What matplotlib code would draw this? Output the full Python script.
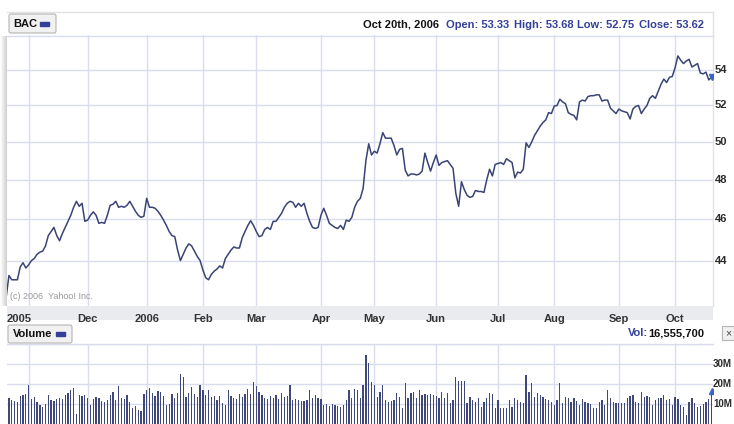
import numpy as np
import matplotlib
matplotlib.use("Agg")
import matplotlib.pyplot as plt
from matplotlib.patches import Rectangle, FancyBboxPatch

# BAC daily close, Oct 20 2005 .. Oct 20 2006 (trading days)
close = [
    42.3, 43.3, 43.1, 43.1, 43.1, 43.7, 43.9, 43.65, 43.8, 44.0,
    44.1, 44.3, 44.4, 44.45, 44.7, 45.2, 45.4, 45.6, 45.2, 44.95,
    45.3, 45.6, 45.9, 46.2, 46.6, 46.9, 46.65, 46.8, 45.9, 45.96,
    46.2, 46.37, 46.2, 45.8, 45.85, 45.8, 46.2, 46.7, 46.75, 46.9,
    46.6, 46.65, 46.6, 46.7, 46.9, 46.65, 46.4, 46.2, 46.1, 46.15,
    47.05, 46.6, 46.6, 46.55, 46.4, 46.2, 45.96, 45.7, 45.4, 45.2,
    45.15, 44.5, 44.0, 44.3, 44.6, 44.8, 44.7, 44.45, 44.2, 44.0,
    43.56, 43.2, 43.1, 43.35, 43.5, 43.6, 43.75, 43.65, 44.1, 44.3,
    44.5, 44.65, 44.6, 44.6, 45.1, 45.4, 45.7, 45.93, 45.7, 45.4,
    45.15, 45.2, 45.5, 45.6, 45.5, 45.9, 45.9, 46.1, 46.3, 46.6,
    46.8, 46.9, 46.85, 46.6, 46.8, 46.65, 46.8, 46.3, 45.9, 45.6,
    45.55, 45.6, 46.2, 46.55, 46.2, 45.8, 45.7, 45.6, 45.55, 45.7,
    45.5, 45.96, 45.9, 46.1, 46.6, 46.9, 47.05, 47.55, 49.0, 49.9,
    49.3, 49.5, 49.4, 49.9, 50.5, 50.2, 50.2, 50.2, 49.8, 49.3,
    49.6, 49.65, 48.5, 48.2, 48.3, 48.3, 48.25, 48.3, 48.45, 49.4,
    48.9, 48.45, 48.9, 49.3, 48.75, 48.9, 48.95, 49.0, 48.8, 48.6,
    47.3, 46.65, 47.9, 47.5, 47.2, 47.1, 47.15, 47.45, 47.4, 47.4,
    47.35, 48.0, 48.55, 48.2, 48.8, 48.85, 48.9, 48.8, 49.1, 49.0,
    48.9, 48.1, 48.4, 48.35, 48.55, 49.95, 49.7, 50.0, 50.35, 50.6,
    50.85, 51.05, 51.2, 51.6, 51.55, 51.96, 52.0, 52.35, 52.2, 52.1,
    51.6, 51.5, 51.45, 51.2, 52.2, 52.3, 52.25, 52.5, 52.55, 52.55,
    52.6, 52.6, 52.25, 52.3, 52.3, 51.85, 51.7, 51.55, 51.8, 51.7,
    51.65, 51.6, 51.25, 51.8, 51.95, 52.0, 51.55, 51.8, 52.0, 52.4,
    52.55, 52.4, 52.8, 53.2, 53.5, 53.3, 53.6, 53.65, 54.15, 54.85,
    54.6, 54.4, 54.55, 54.65, 54.2, 54.3, 54.4, 53.85, 53.8, 53.9,
    53.45, 53.62,
]

# daily volume, millions of shares
volume = [
    13, 13, 12, 11.5, 11, 14, 14.5, 15, 19.5, 12.5,
    13.5, 11, 9.5, 8.5, 10, 14.5, 12, 11.5, 12.5, 13,
    12.5, 14.5, 15.5, 17, 18, 5, 14.5, 14, 14.5, 13,
    9.5, 12.5, 13.5, 13, 11.5, 11, 12, 14.5, 16, 12,
    19, 13, 12.5, 14.5, 11, 8, 9, 7, 6.5, 15,
    17, 18, 15.5, 14, 16.5, 16, 14, 9.5, 10, 15,
    13, 15.5, 25, 23.5, 13.5, 15.5, 18.5, 15, 13.5, 19.5,
    17, 14.5, 17, 13.5, 14, 12, 14, 10.5, 9.5, 17,
    14, 13, 12.5, 15, 13.5, 15, 17.5, 15, 21, 19,
    16, 14.5, 13, 12.5, 14, 13, 14.5, 12.5, 15.5, 13.5,
    14, 19.5, 12, 12.5, 12, 11.5, 11.5, 12, 17, 13,
    14.5, 13, 12.5, 9.5, 10, 9, 10, 9.5, 9, 8.5,
    9.5, 12, 17, 13, 17.5, 17, 13, 19.5, 34.5, 30.3,
    21, 19.5, 13.7, 16, 19.5, 12, 11, 11.5, 12, 15.3,
    13.7, 7.8, 20.7, 13, 15.3, 16, 13, 17, 14.5, 15,
    14.5, 15, 14.5, 14, 13, 16, 13, 15.7, 10.3, 12,
    23.3, 21.7, 21.7, 21.7, 10.3, 13.3, 12, 11, 12.8, 8.7,
    11, 12.8, 15.7, 15, 7.8, 12, 7.8, 7.8, 7.8, 12,
    8.7, 12.8, 12, 11, 10.3, 24.5, 16, 20.3, 13.7, 15.3,
    14.5, 13.3, 12.5, 12, 11, 9.5, 12, 20.3, 10.3, 13.3,
    12.8, 11, 12.8, 11.5, 9.5, 12.3, 11, 10.7, 10, 7.8,
    7.8, 11, 12, 9.5, 17, 12.8, 11, 10.7, 10.7, 10.5,
    10.7, 13, 14, 14.5, 11, 10.3, 16, 13.3, 14, 13.3,
    9.5, 12, 12.8, 13, 14.5, 12, 12.3, 9.5, 13.7, 12.3,
    9.5, 8.7, 4.5, 11, 12.8, 10.3, 8.7, 9, 10, 11,
    12.3, 16.56,
]

# first trading day of each month (index into the series)
month_idx = [8, 29, 50, 70, 89, 112, 131, 153, 175, 195, 218, 238]
month_lbl = ["", "Dec", "2006", "Feb", "Mar", "Apr", "May", "Jun", "Jul", "Aug", "Sep", "Oct"]
price_ticks = [44, 46, 48, 50, 52, 54]
vol_ticks = [10, 20, 30, 40]
vol_lbl = ["10M", "20M", "30M", ""]

W, H = 734, 424
grid_c = "#d9dded"
line_c = "#3a4375"
blue_c = "#33409a"
txt_c = "#2b2b2b"
fam = ["Liberation Sans", "DejaVu Sans"]

days = np.arange(len(close))

fig = plt.figure(figsize=(W / 100, H / 100), dpi=100)

# background layer in pixel coordinates
bg = fig.add_axes([0, 0, 1, 1])
bg.set_xlim(0, W)
bg.set_ylim(H, 0)
bg.axis("off")

# left shadow
grad = np.linspace(1, 0.82, 8).reshape(1, -1)
bg.imshow(np.repeat(grad, 2, axis=0), cmap="gray", vmin=0, vmax=1,
          extent=(0, 7, 306, 36), aspect="auto", zorder=0)

# header strip lines
bg.plot([7, 713], [12, 12], color="#e2e2e2", lw=1)
bg.plot([713, 713], [12, 306], color="#e2e2e2", lw=1)
bg.plot([7, 713], [35.5, 35.5], color=grid_c, lw=1)

# BAC button
bg.add_patch(FancyBboxPatch((9, 14), 47, 19, boxstyle="round,pad=0,rounding_size=2",
                            fc="#f1f1f1", ec="#b5b5b5", lw=0.8, zorder=2))
bg.text(13, 24, "BAC", fontsize=8, fontweight="bold", color="#111111",
        family=fam, va="center", zorder=3)
bg.add_patch(Rectangle((40, 22), 9, 3.5, color=blue_c, zorder=3))

# quote line
bg.text(363, 24.5, "Oct 20th, 2006", fontsize=8, fontweight="bold", color="#111111",
        family=fam, va="center")
quotes = [("Open: 53.33", 446), ("High: 53.68", 514), ("Low: 52.75", 577), ("Close: 53.62", 639)]
for s, xp in quotes:
    bg.text(xp, 24.5, s, fontsize=8, fontweight="bold", color=blue_c,
            family=fam, va="center")

# date strip
bg.add_patch(Rectangle((7, 306), 706, 14, fc="#e9ebef", ec="none", zorder=1))

# volume header
bg.plot([7, 713], [344, 344], color=grid_c, lw=1)
bg.add_patch(FancyBboxPatch((8, 325), 64, 18, boxstyle="round,pad=0,rounding_size=2",
                            fc="#f1f1f1", ec="#b5b5b5", lw=0.8, zorder=2))
bg.text(13, 334, "Volume", fontsize=8, fontweight="bold", color="#111111",
        family=fam, va="center", zorder=3)
bg.add_patch(Rectangle((56, 332), 9, 3.5, color=blue_c, zorder=3))
bg.text(628, 333, "Vol:", fontsize=8, fontweight="bold", color=blue_c,
        family=fam, va="center")
bg.text(648, 333, "16,555,700", fontsize=8, fontweight="bold", color="#111111",
        family=fam, va="center")
bg.add_patch(Rectangle((722, 326), 12, 14, fc="#f0f0f0", ec="#b5b5b5", lw=0.8))
bg.text(728, 333, "\u00d7", fontsize=7.5, color="#444444", family=fam,
        ha="center", va="center")

# price panel
ax = fig.add_axes([7 / W, 1 - 306 / H, 706 / W, 271 / H])
ax.set_facecolor("none")
ax.set_yscale("log")
ax.set_xlim(0.3, 251.5)
ax.set_ylim(41.9, 56.1)
for m in month_idx:
    ax.axvline(m, color=grid_c, lw=1, zorder=1)
for p in price_ticks:
    ax.axhline(p, color=grid_c, lw=1, zorder=1)
ax.plot(days, close, color=line_c, lw=1.1, zorder=3)
ax.plot(days[-1], close[-1], marker="v", ms=4.5, color="#3d63c8", zorder=4)
ax.set_xticks([])
ax.set_yticks([])
ax.minorticks_off()
for sp in ax.spines.values():
    sp.set_visible(False)
for p in price_ticks:
    ax.text(1.002, p, str(p), transform=ax.get_yaxis_transform(), fontsize=8,
            fontweight="bold", color=txt_c, family=fam, va="center", ha="left")
ax.text(1.5, 42.35, "(c) 2006  Yahoo! Inc.", fontsize=6.5, color="#9a9a9a",
        family=fam, va="center")

# month labels in date strip
for m, lab in zip(month_idx, month_lbl):
    if lab:
        ax.text(m, -0.048, lab, transform=ax.get_xaxis_transform(), fontsize=8,
                fontweight="bold", color="#333333", family=fam, ha="center",
                va="center", clip_on=False)
ax.text(0.0, -0.048, "2005", transform=ax.transAxes, fontsize=8,
        fontweight="bold", color="#333333", family=fam, ha="left",
        va="center", clip_on=False)

# volume panel
vx = fig.add_axes([7 / W, 0, 706 / W, 80 / H])
vx.set_facecolor("none")
vx.set_xlim(0.3, 251.5)
vx.set_ylim(0, 40)
for m in month_idx:
    vx.axvline(m, color=grid_c, lw=1, zorder=1)
for v in vol_ticks:
    vx.axhline(v, color=grid_c, lw=1, zorder=1)
vx.bar(days, volume, width=0.45, color="#3f4878", zorder=3)
vx.plot(days[-1], volume[-1], marker="^", ms=4.5, color="#3d63c8", zorder=4)
vx.set_xticks([])
vx.set_yticks([])
for sp in vx.spines.values():
    sp.set_visible(False)
for v, lab in zip(vol_ticks, vol_lbl):
    if lab:
        vx.text(1.0, v, lab, transform=vx.get_yaxis_transform(), fontsize=7,
                fontweight="bold", color=txt_c, family=fam, va="center", ha="left")

fig.savefig("out.png", dpi=100)
